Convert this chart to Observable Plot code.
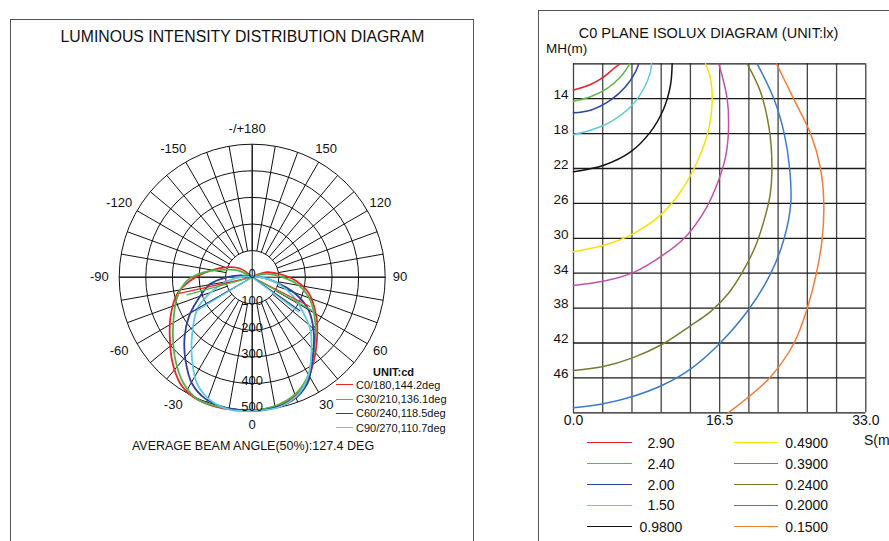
<!DOCTYPE html>
<html><head><meta charset="utf-8">
<script src="https://cdn.jsdelivr.net/npm/d3@7"></script>
<script src="https://cdn.jsdelivr.net/npm/@observablehq/plot@0.6"></script>
<style>
html,body{margin:0;padding:0;background:#fff;}
#root{position:relative;width:889px;height:541px;overflow:hidden;background:#fff;font-family:"Liberation Sans",Arial,Helvetica,sans-serif;color:#111;}
.abs{position:absolute;}
.t{position:absolute;white-space:nowrap;line-height:1;}
</style></head><body><div id="root"></div>
<script>
// ---------- Polar (luminous intensity) data: [angle deg (0 = down), intensity cd]
const polarSeries = ["C0/180,144.2deg", "C30/210,136.1deg", "C60/240,118.5deg", "C90/270,110.7deg"];
const polarColors = ["#e8262b", "#4cb748", "#2e4099", "#5ecbe0"];
const c0Lobe = [[-180,0],[-126,54],[-113,96],[-99,159],[-87,232],[-77.5,289],[-64,342],[-54,383],[-44,434],[-34,483],[-26,502],[-15,506],[-1,501],[6,497],[16.5,484],[26.6,448],[36.5,390],[49,324],[58,285],[74,222],[85.6,163],[97,101],[110,53],[180,0]];
const c30Lobe = [[-180,0],[-115,60],[-108,92],[-96,180],[-87,245],[-75,292],[-63,331],[-53,373],[-42.6,426],[-32.7,476],[-24.3,502],[-13.7,503],[-1,502],[8.7,494],[20.4,468],[30.4,421],[41.7,352],[53.6,295],[68,236],[80,178],[90,113],[104,52],[180,0]];
const c60Lobe = [[-180,0],[-100,40],[-90,94],[-81,159],[-67,224],[-57.8,282],[-48.4,340],[-38.7,401],[-29.4,460],[-21,490],[-10.8,501],[0,502],[5.7,501],[18,487],[27.3,451],[35.8,386],[47.4,315],[59.5,247],[69,174],[78,90],[90,30],[180,0]];
const c90Lobe = [[-180,0],[-95,30],[-80,100],[-68,180],[-60,238],[-46.7,310],[-35.8,386],[-27.3,451],[-18.7,489],[-9.3,505],[0,502],[11.6,499],[21.8,472],[30.4,421],[39,354],[47.6,297],[53,252],[65,170],[78,90],[90,30],[180,0]];
// straight spokes back to the centre: [angle1, cd1, angle2, cd2]
const c0Spurs = [[-77.5,280,-90,0],[63,245,70,0]];
const c30Spurs = [[-75,255,-90,0],[61,258,70,0]];
const c60Spurs = [[-60,262,-90,0],[55,221,70,0]];
const c90Spurs = [[-59,242,-90,0],[53,219,70,0]];
const polarRings = [100, 200, 300, 400, 500];
const polarRingLabelValues = [0, 100, 200, 300, 400, 500];
const polarAngleTicks = [0, 30, 60, 90, 120, 150, 180, -150, -120, -90, -60, -30];
const polarAngleLabels = ["0", "30", "60", "90", "120", "150", "-/+180", "-150", "-120", "-90", "-60", "-30"];
const spokeAngles = d3.range(0, 360, 10);

// ---------- Isolux data: [S (m), MH (m)]
const isoLevels = ["2.90", "2.40", "2.00", "1.50", "0.9800", "0.4900", "0.3900", "0.2400", "0.2000", "0.1500"];
const isoColors = ["#e5222a", "#5db845", "#2b45a0", "#5ec8dc", "#111111", "#f5e400", "#c052ac", "#7b7b2e", "#3b7bcc", "#f47b3a"];
const iso290 = [[0,13.0],[1.92,12.37],[3.42,11.49],[4.55,10.54],[5.23,10]];
const iso240 = [[0,14.28],[1.92,13.78],[3.8,12.83],[5.31,11.49],[6.35,10]];
const iso200 = [[0,15.62],[1.92,15.32],[4.18,14.17],[5.87,12.64],[7.0,10.92],[7.37,10]];
const iso150 = [[0,18.1],[1.92,17.61],[4.18,16.65],[6.44,14.93],[7.94,12.83],[8.69,10.92],[8.81,10]];
const iso098 = [[0,22.38],[3.42,21.62],[6.44,20.09],[8.69,17.8],[10.2,15.12],[10.95,12.45],[11.14,10]];
const iso049 = [[0,31.55],[3.42,30.8],[6.44,29.64],[9.82,27.35],[12.08,24.67],[13.97,21.23],[15.28,17.42],[15.66,13.98],[15.47,11.69],[14.9,10]];
const iso039 = [[0,35.4],[3.46,34.9],[6.8,33.9],[9.86,32.1],[12.5,30.0],[15.0,26.5],[16.4,23.3],[17.2,20.5],[17.5,17.5],[17.35,14.0],[16.4,10]];
const iso024 = [[0,45.15],[3.35,44.7],[6.66,43.7],[9.97,42.17],[13.24,40.0],[15.47,38.4],[17.5,36.3],[19.0,34.0],[20.5,31.0],[21.5,28.0],[22.2,25.0],[22.4,21.5],[22.1,17.5],[21.11,13.21],[19.61,10]];
const iso020 = [[0,49.43],[3.35,48.97],[6.66,48.13],[9.97,46.87],[13.24,44.96],[16.56,42.0],[19.84,38.08],[22.28,34],[23.79,30],[24.53,26],[24.4,22],[23.79,18],[22.61,13.98],[20.74,10]];
const iso015 = [[17.47,50],[22.13,46],[24.9,42],[26.4,38],[27.43,34],[28.08,30],[28.26,26],[27.89,22],[26.76,18],[24.84,14],[22.92,10]];
const isoXTicks = [0, 16.5, 33];
const isoXTickLabels = ["0.0", "16.5", "33.0"];
const isoYTicks = [14, 18, 22, 26, 30, 34, 38, 42, 46];
const isoYGrid = [10, 14, 18, 22, 26, 30, 34, 38, 42, 46, 50];
const isoXGrid = d3.range(11).map(i => i * 3.3);

const FONT = '"Liberation Sans", Arial, Helvetica, sans-serif';
const root = document.getElementById("root");
function box(l, t, w, h, css) { const d = document.createElement("div"); d.className = "abs"; d.style.cssText += `left:${l}px;top:${t}px;width:${w}px;height:${h}px;` + css; root.appendChild(d); return d; }
function txt(s, x, y, size, anchor, extra) {
  const d = document.createElement("div"); d.className = "t"; d.textContent = s;
  const tx = anchor === "middle" ? "-50%" : anchor === "end" ? "-100%" : "0";
  d.style.cssText += `left:${x}px;top:${y}px;font-size:${size}px;transform:translate(${tx},-50%);` + (extra || "");
  root.appendChild(d); return d;
}

// panel borders
box(9.5, 19, 464, 600, "border:1.3px solid #555;box-sizing:border-box;");
box(537.5, 10, 420, 600, "border:1.3px solid #555;box-sizing:border-box;");

// ---------- Polar chart
const rad = a => a * Math.PI / 180;
const px = (a, r) => r * Math.sin(rad(a));
const py = (a, r) => -r * Math.cos(rad(a));
const lobes = [c0Lobe, c30Lobe, c60Lobe, c90Lobe];
const spurs = [c0Spurs, c30Spurs, c60Spurs, c90Spurs];
const lobeRows = lobes.flatMap((arr, i) => arr.map(([a, r]) => ({series: polarSeries[i], a, r})));
const spurRows = spurs.flatMap((arr, i) => arr.map(([a1, r1, a2, r2]) => ({series: polarSeries[i], a1, r1, a2, r2})));
const cx = 251.7, cy = 276.7, k = 0.266 * 600;

const polar = Plot.plot({
  width: 480, height: 470, margin: 0,
  style: {background: "transparent", overflow: "visible"},
  x: {domain: [-600, 600], range: [cx - k, cx + k], axis: null},
  y: {domain: [-600, 600], range: [cy + k, cy - k], axis: null},
  r: {type: "linear", domain: [0, 600], range: [0, k]},
  color: {domain: polarSeries, range: polarColors},
  marks: [
    Plot.dot(polarRings, {x: 0, y: 0, r: d => d, stroke: "#111", strokeWidth: 1, fill: "none"}),
    Plot.link(spokeAngles, {x1: a => px(a, 100), y1: a => py(a, 100), x2: a => px(a, 500), y2: a => py(a, 500), stroke: "#111", strokeWidth: 1}),
    Plot.link([0, 90], {x1: a => px(a, -500), y1: a => py(a, -500), x2: a => px(a, 500), y2: a => py(a, 500), stroke: "#111", strokeWidth: 1}),
    Plot.line(lobeRows, {x: d => px(d.a, d.r), y: d => py(d.a, d.r), z: "series", stroke: "series", strokeWidth: 1.8, curve: "catmull-rom"}),
    Plot.link(spurRows, {x1: d => px(d.a1, d.r1), y1: d => py(d.a1, d.r1), x2: d => px(d.a2, d.r2), y2: d => py(d.a2, d.r2), stroke: "series", strokeWidth: 1.3}),
    Plot.text(polarRingLabelValues, {x: 0, y: d => -d, text: d => String(d), dy: -3, fontSize: 13, fontFamily: FONT, fill: "#111"}),
    Plot.text(polarAngleTicks, {x: a => px(a, 556), y: a => py(a, 556), text: (a, i) => polarAngleLabels[i], fontSize: 13, fontFamily: FONT, fill: "#111"})
  ]
});
// shift negative labels slightly left (the minus sign)
polar.querySelectorAll("text").forEach(t => { if (t.textContent.startsWith("-")) t.setAttribute("transform", (t.getAttribute("transform") || "") + " translate(-5,0)"); });
const pw = document.createElement("div"); pw.className = "abs"; pw.style.left = "0px"; pw.style.top = "0px"; pw.appendChild(polar); root.appendChild(pw);

txt("LUMINOUS INTENSITY DISTRIBUTION DIAGRAM", 242.5, 36.7, 15.8, "middle");
txt("AVERAGE BEAM ANGLE(50%):127.4 DEG", 253, 446, 12.5, "middle");
txt("UNIT:cd", 393.5, 372, 11, "middle", "font-weight:bold;");
const legY = [385, 399.3, 413.3, 427.7];
polarSeries.forEach((s, i) => {
  box(336, legY[i] - 0.8, 17, 0, `border-top:1.6px solid ${polarColors[i]};`);
  txt(s, 356, legY[i], 11, "start");
});

// ---------- Isolux chart
const isoCurves = [iso290, iso240, iso200, iso150, iso098, iso049, iso039, iso024, iso020, iso015];
const isoRows = isoCurves.flatMap((arr, i) => arr.map(([s, mh]) => ({level: isoLevels[i], s, mh})));
const ox = 537;
const iso = Plot.plot({
  width: 352, height: 541, margin: 0,
  style: {background: "transparent", overflow: "visible"},
  x: {domain: [0, 33], range: [573 - ox, 865.3 - ox], axis: null},
  y: {domain: [10, 50], range: [63.3, 412.3], axis: null},
  color: {domain: isoLevels, range: isoColors},
  marks: [
    Plot.ruleX(isoXGrid, {y1: 10, y2: 50, stroke: "#444", strokeWidth: 1.3}),
    Plot.ruleY(isoYGrid, {x1: 0, x2: 33, stroke: "#1a1a1a", strokeWidth: 1.3}),
    Plot.line(isoRows, {x: "s", y: "mh", z: "level", stroke: "level", strokeWidth: 1.5, curve: "catmull-rom"}),
    Plot.text(isoYTicks, {x: 0, y: d => d, text: d => String(d), dx: -5, dy: -4, textAnchor: "end", fontSize: 13.5, fontFamily: FONT, fill: "#111"}),
    Plot.text(isoXTicks, {x: d => d, y: 50, text: (d, i) => isoXTickLabels[i], dy: 8, fontSize: 14, fontFamily: FONT, fill: "#111"})
  ]
});
const iw = document.createElement("div"); iw.className = "abs"; iw.style.left = ox + "px"; iw.style.top = "0px"; iw.appendChild(iso); root.appendChild(iw);

txt("C0 PLANE ISOLUX DIAGRAM (UNIT:lx)", 708.5, 32.7, 14.5, "middle");
txt("MH(m)", 546, 49, 13.5, "start");
txt("S(m)", 864, 440, 14, "start");
const isoLegY = [442.7, 463.7, 484.7, 505.3, 526.7];
isoLevels.forEach((lv, i) => {
  const col = i < 5 ? 0 : 1, row = i % 5;
  const y = isoLegY[row];
  if (col === 0) {
    box(587, y - 0.75, 45, 0, `border-top:1.5px solid ${isoColors[i]};`);
    txt(lv, 661, y, 14, "middle");
  } else {
    box(733.7, y - 0.75, 44, 0, `border-top:1.5px solid ${isoColors[i]};`);
    txt(lv, 785.3, y, 14, "start");
  }
});
</script></body></html>
